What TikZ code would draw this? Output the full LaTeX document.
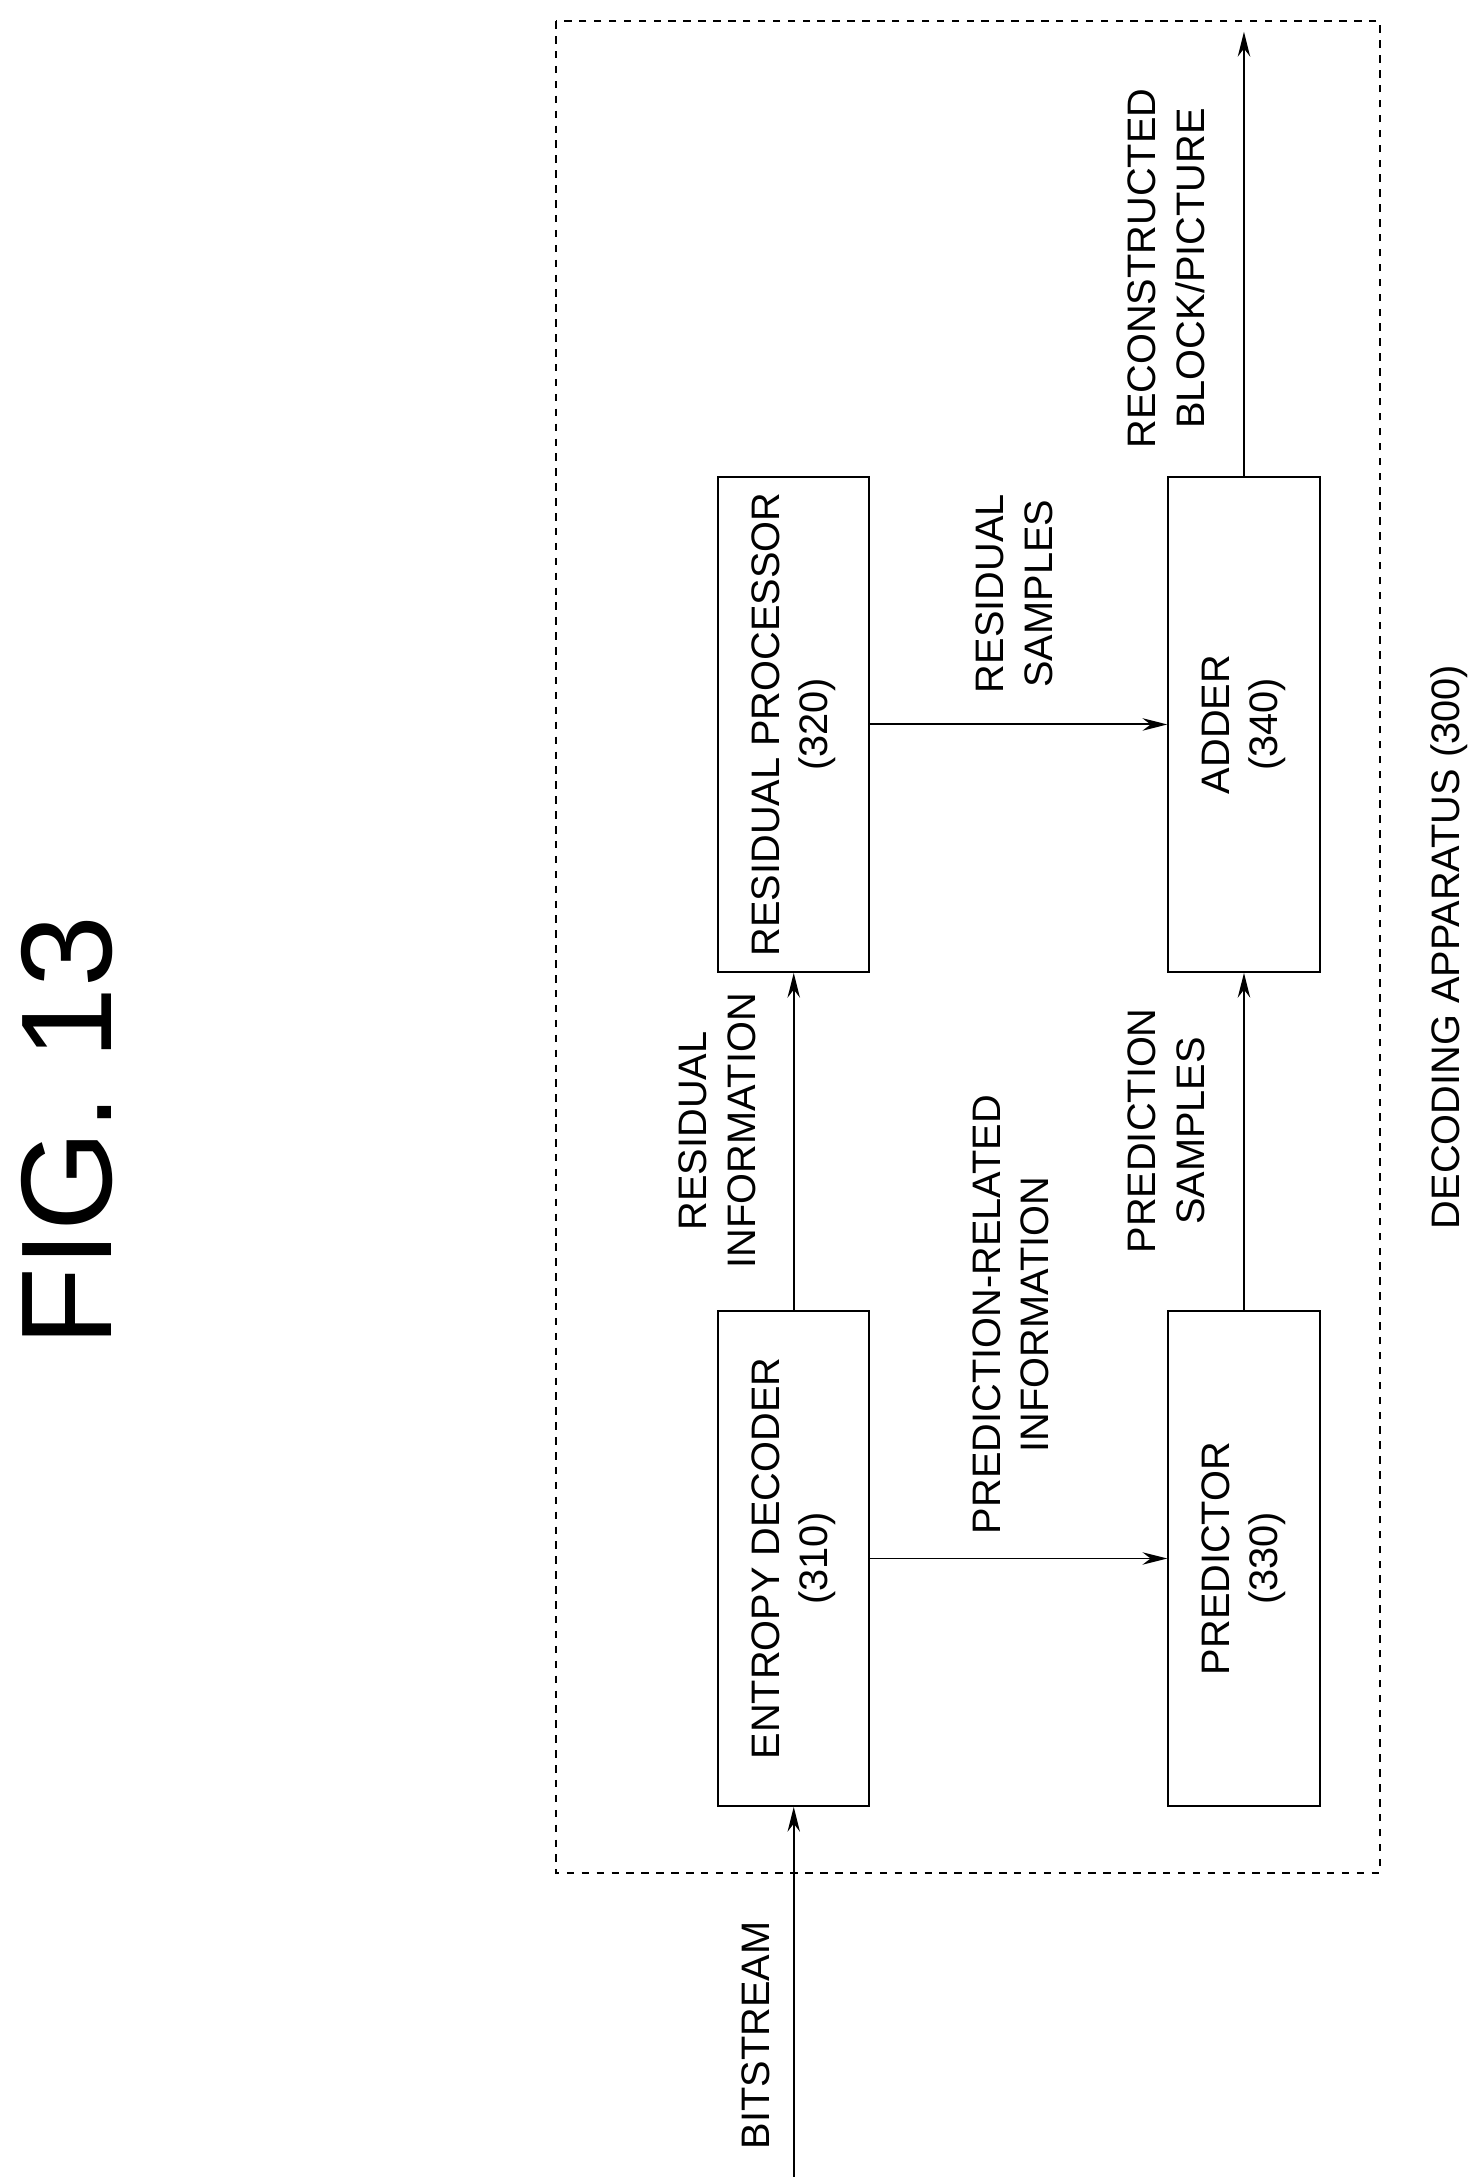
\documentclass[tikz,border=0pt]{standalone}
\usepackage{fontspec}
\setmainfont{Liberation Sans}
\usetikzlibrary{arrows.meta,positioning}
\begin{document}
\begin{tikzpicture}[
  every node/.style={font=\fontsize{16}{19.5}\selectfont, align=center},
  block/.style={draw, thick, rotate=90, minimum width=7.0cm, minimum height=2.14cm},
  lbl/.style={rotate=90},
  arrow/.style={-{Stealth[length=10pt,width=5pt]}, thick}, % arrow points in direction of drawing
  ]
\useasboundingbox (0,0) rectangle (20.9,-30.9);

% Title and frame
\node[lbl, font=\fontsize{52}{60}\selectfont] (fig) at (0.95,-16.0) {FIG. 13};
\draw[dashed, thick] (7.86,-0.3) rectangle (19.52,-26.5);
\node[lbl] (apparatus) at (20.5,-13.4) {DECODING APPARATUS (300)};

% Blocks
\node[block] (entropy) at (11.23,-22.05) {ENTROPY DECODER\\(310)};
\node[block] (residual) at (11.23,-10.25) {RESIDUAL PROCESSOR\\(320)};
\node[block] (predictor) at (17.6,-22.05) {PREDICTOR\\(330)};
\node[block] (adder) at (17.6,-10.25) {ADDER\\(340)};

% Input and output ends
\coordinate (in) at (11.23,-30.8);
\coordinate (out) at (17.6,-0.45);

% Arrows
\draw[arrow] (in) -- (entropy.west);
\draw[arrow] (entropy.east) -- (residual.west);
\draw[arrow] (entropy.south) -- (predictor.north);
\draw[arrow] (residual.south) -- (adder.north);
\draw[arrow] (predictor.east) -- (adder.west);
\draw[arrow] (adder.east) -- (out);

% Labels
\node[lbl] (bitstream) at (10.7,-28.8) {BITSTREAM};
\node[lbl] (resinfo) at (10.15,-16.0) {RESIDUAL\\INFORMATION};
\node[lbl] (predinfo) at (14.3,-18.6) {PREDICTION-RELATED\\INFORMATION};
\node[lbl] (predsamples) at (16.5,-16.0) {PREDICTION\\SAMPLES};
\node[lbl] (ressamples) at (14.35,-8.4) {RESIDUAL\\SAMPLES};
\node[lbl] (recon) at (16.5,-3.8) {RECONSTRUCTED\\BLOCK/PICTURE};
\end{tikzpicture}
\end{document}
